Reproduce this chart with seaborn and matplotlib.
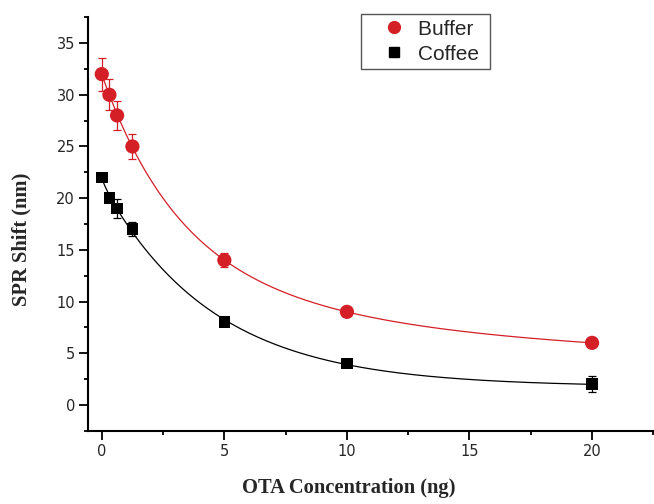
import numpy as np
import pandas as pd
import matplotlib
matplotlib.use("Agg")
import matplotlib.pyplot as plt
from matplotlib.ticker import MultipleLocator
from matplotlib.lines import Line2D
import seaborn as sns

# 读取自图片的数据
conc = [0, 0.3125, 0.625, 1.25, 5, 10, 20]
buffer_shift = [32, 30, 28, 25, 14, 9, 6]
buffer_err = [1.6, 1.5, 1.4, 1.25, 0.7, 0.4, 0.25]
coffee_shift = [22, 20, 19, 17, 8, 4, 2]
coffee_err = [0.3, 0.3, 0.9, 0.7, 0.3, 0.3, 0.75]

RED = "#d41f26"
BLACK = "#000000"


def fit_expdec2(x, y):
    # 双指数衰减拟合：网格搜索时间常数，振幅用最小二乘
    x = np.asarray(x, float); y = np.asarray(y, float)
    best = None
    for t1 in np.linspace(0.2, 5, 49):
        for t2 in np.linspace(3, 40, 75):
            A = np.column_stack([np.exp(-x / t1), np.exp(-x / t2), np.ones_like(x)])
            coef, *_ = np.linalg.lstsq(A, y, rcond=None)
            r = np.sum((A @ coef - y) ** 2)
            if best is None or r < best[0]:
                best = (r, t1, t2, coef)
    _, t1, t2, c = best
    return lambda xx: c[0] * np.exp(-xx / t1) + c[1] * np.exp(-xx / t2) + c[2]


xs = np.linspace(0, 20, 300)
f_buf = fit_expdec2(conc, buffer_shift)
f_cof = fit_expdec2(conc, coffee_shift)
curves = pd.DataFrame({
    "x": np.concatenate([xs, xs]),
    "y": np.concatenate([f_buf(xs), f_cof(xs)]),
    "sample": ["Buffer"] * len(xs) + ["Coffee"] * len(xs),
})

sns.set_style("ticks")
fig = plt.figure(figsize=(6.54, 5.04), dpi=100)
ax = fig.add_axes([0.135, 0.1454, 0.864, 0.8203])

sns.lineplot(data=curves, x="x", y="y", hue="sample", palette=[RED, BLACK],
             linewidth=0.9, legend=False, ax=ax)

ax.errorbar(conc, buffer_shift, yerr=buffer_err, fmt="none", ecolor=RED,
            elinewidth=0.9, capsize=3, capthick=0.9, zorder=3)
ax.errorbar(conc, coffee_shift, yerr=coffee_err, fmt="none", ecolor=BLACK,
            elinewidth=0.9, capsize=3, capthick=0.9, zorder=3)
sns.scatterplot(x=conc, y=buffer_shift, color=RED, marker="o", s=105,
                edgecolor="none", ax=ax, zorder=4)
sns.scatterplot(x=conc, y=coffee_shift, color=BLACK, marker="s", s=70,
                edgecolor="none", ax=ax, zorder=4)

ax.set_xlim(-0.55, 22.5)
ax.set_ylim(-2.5, 37.5)
ax.xaxis.set_minor_locator(MultipleLocator(2.5))
ax.yaxis.set_minor_locator(MultipleLocator(2.5))
ax.set_yticks([0, 5, 10, 15, 20, 25, 30, 35])
ax.set_xticks([0, 5, 10, 15, 20])
ax.tick_params(which="major", length=6.5, width=1.3, labelsize=10.5, pad=3, color="black")
ax.tick_params(which="minor", length=3.2, width=1.3, color="black")
for lab in ax.get_xticklabels() + ax.get_yticklabels():
    lab.set_family("DejaVu Sans")
sns.despine(ax=ax)
for s in ("left", "bottom"):
    ax.spines[s].set_linewidth(1.5)
    ax.spines[s].set_color("black")
ax.set_xlabel("")
ax.set_ylabel("")

fig.text(0.534, 0.0218, "OTA Concentration (ng)", family="Liberation Serif",
         fontweight="bold", fontsize=14.8, ha="center", va="baseline")
fig.text(0.0325, 0.526, "SPR Shift (nm)", family="Liberation Serif",
         fontweight="bold", fontsize=14.8, ha="center", va="center", rotation=90)

handles = [
    Line2D([], [], linestyle="none", marker="o", color=RED, markersize=8.5),
    Line2D([], [], linestyle="none", marker="s", color=BLACK, markersize=7),
]
leg = fig.legend(handles, ["Buffer ", "Coffee "], loc="upper left",
                 bbox_to_anchor=(0.5515, 0.9716), borderaxespad=0,
                 prop={"family": "Liberation Sans", "size": 15}, fancybox=False,
                 edgecolor="#555555", framealpha=1, handlelength=2.64,
                 handletextpad=-0.17, labelspacing=0.28, borderpad=0.26)
leg.get_frame().set_linewidth(1.0)

fig.savefig("out.png", dpi=100)
